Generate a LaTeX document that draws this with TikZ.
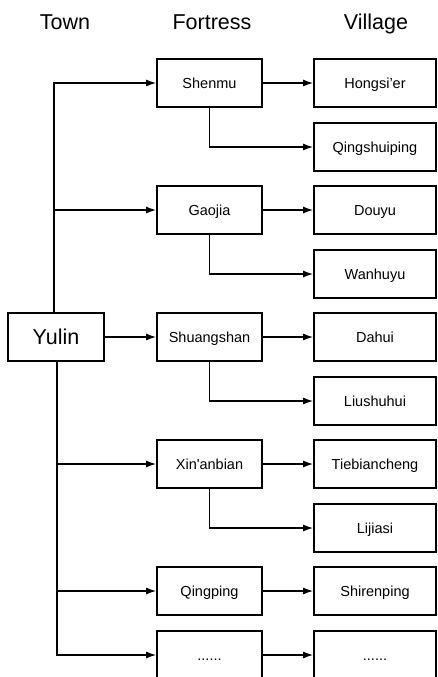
\documentclass[tikz,border=0pt]{standalone}
\usepackage{fontspec}
\setmainfont{Liberation Sans}
\usetikzlibrary{arrows.meta,positioning,calc}
\newcommand{\moredots}{......}

\begin{document}
\begin{tikzpicture}[
    x=1pt, y=-1pt,
    box/.style={rectangle,draw=black,line width=1.8pt,
                minimum height=48pt,inner sep=0pt,
                text height=13pt,text depth=2.6pt,
                font=\fontsize{14.5}{17}\selectfont},
    fort/.style={box,minimum width=105pt},
    vill/.style={box,minimum width=122pt},
    head/.style={anchor=base,font=\fontsize{21.5}{25}\selectfont},
    link/.style={line width=1.3pt,-{Latex[length=10pt,width=7pt]}}]

    \useasboundingbox (0,0) rectangle (437,677);

    % column headers
    \node[head] (town) at (65,30) {Town};
    \node[head] (fortress) at (212,30) {Fortress};
    \node[head] (village) at (376,30) {Village};

    % town
    \node[box,minimum width=96pt,text height=18pt,
          font=\fontsize{21.5}{25}\selectfont] (yulin) at (56,337) {Yulin};

    % fortresses
    \foreach \name/\row/\txt in {shenmu/0/Shenmu, gaojia/2/Gaojia,
        shuangshan/4/Shuangshan, xinanbian/6/Xin\textquotesingle anbian,
        qingping/8/Qingping, fortmore/9/\moredots}
      \node[fort] (\name) at (209.5,{round(83+63.5*\row)}) {\txt};

    % villages
    \foreach \name/\row/\txt in {hongsier/0/Hongsi’er, qingshuiping/1/Qingshuiping,
        douyu/2/Douyu, wanhuyu/3/Wanhuyu, dahui/4/Dahui, liushuhui/5/Liushuhui,
        tiebiancheng/6/Tiebiancheng, lijiasi/7/Lijiasi,
        shirenping/8/Shirenping, villmore/9/\moredots}
      \node[vill] (\name) at (375,{round(83+63.5*\row)}) {\txt};

    % town to fortresses
    \foreach \f in {shenmu,gaojia}
      \draw[link] ([xshift=-2pt]yulin.north) |- (\f.west);
    \draw[link] (yulin.east) -- (shuangshan.west);
    \foreach \f in {xinanbian,qingping,fortmore}
      \draw[link] ([xshift=1pt]yulin.south) |- (\f.west);

    % fortresses to villages
    \foreach \f/\a/\b in {shenmu/hongsier/qingshuiping, gaojia/douyu/wanhuyu,
        shuangshan/dahui/liushuhui, xinanbian/tiebiancheng/lijiasi}
    {
      \draw[link] (\f.east) -- (\a.west);
      \draw[link] (\f.south) |- (\b.west);
    }
    \draw[link] (qingping.east) -- (shirenping.west);
    \draw[link] (fortmore.east) -- (villmore.west);
\end{tikzpicture}
\end{document}
